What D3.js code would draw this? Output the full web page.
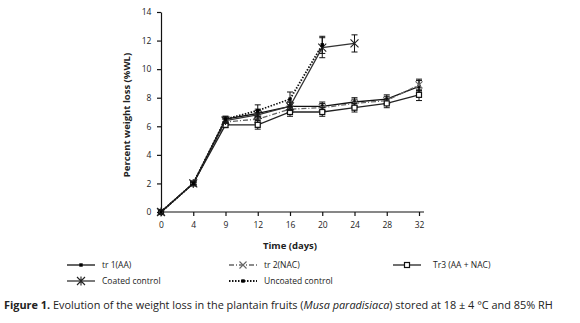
<!DOCTYPE html>
<html>
<head>
<meta charset="utf-8">
<script src="https://cdn.jsdelivr.net/npm/d3@7"></script>
<style>
  body { margin: 0; background: #fff; }
  svg text { font-family: "Open Sans", "Noto Sans", sans-serif; fill: #222; }
</style>
</head>
<body>
<div id="chart"></div>
<script>
// data
const days = [0, 4, 9, 12, 16, 20, 24, 28, 32];
const tr1 = [0, 2, 6.5, 6.9, 7.4, 7.4, 7.7, 7.9, 8.8];
const tr2 = [0, 2, 6.3, 6.5, 7.2, 7.3, 7.6, 7.8, 8.9];
const tr3 = [0, 2, 6.1, 6.1, 7.0, 7.0, 7.3, 7.6, 8.2];
const coated = [0, 2, 6.4, 6.8, 7.4, 11.5, 11.8];
const uncoated = [0, 2, 6.5, 7.1, 7.9, 11.7];
const errTr = [0, 0.1, 0.2, 0.3, 0.3, 0.3, 0.3, 0.3, 0.4];
const errCoated = [0, 0.1, 0.2, 0.3, 0.3, 0.7, 0.6];
const errUncoated = [0, 0.1, 0.2, 0.4, 0.5, 0.6];
const yTicks = [0, 2, 4, 6, 8, 10, 12, 14];

const width = 580, height = 323;
const svg = d3.select("#chart").append("svg")
  .attr("width", width).attr("height", height);

// scales
const x = d3.scalePoint().domain(days).range([161, 419]);
const y = d3.scaleLinear().domain([0, 14]).range([212, 12]);

// axes
const xAxis = svg.append("g")
  .attr("transform", "translate(0,212)")
  .call(d3.axisBottom(x).tickSize(4).tickSizeOuter(0));
xAxis.select(".domain").attr("d", "M161,0H424");
const yAxis = svg.append("g")
  .attr("transform", "translate(161,0)")
  .call(d3.axisLeft(y).tickValues(yTicks).tickSize(4).tickSizeOuter(0));
[xAxis, yAxis].forEach(a => {
  a.selectAll("path, line").attr("stroke", "#111").attr("stroke-width", 1.2);
  a.selectAll("text").style("font-size", "8.5px").attr("fill", "#222");
});
xAxis.selectAll("text").attr("dy", "1.1em");
yAxis.selectAll("text").attr("dx", "-0.3em");

svg.append("text")
  .attr("x", 290).attr("y", 249)
  .attr("text-anchor", "middle")
  .style("font-size", "9.5px").style("font-weight", "bold")
  .text("Time (days)");
svg.append("text")
  .attr("transform", "translate(130,115) rotate(-90)")
  .attr("text-anchor", "middle")
  .style("font-size", "9.5px").style("font-weight", "bold")
  .text("Percent weight loss (%WL)");

// series definitions
const series = [
  {name: "tr 1(AA)", vals: tr1, err: errTr, color: "#111", dash: null, marker: "dot"},
  {name: "tr 2(NAC)", vals: tr2, err: errTr, color: "#666", dash: "5,2,1,2", marker: "x"},
  {name: "Tr3 (AA + NAC)", vals: tr3, err: errTr, color: "#222", dash: null, marker: "square"},
  {name: "Coated control", vals: coated, err: errCoated, color: "#333", dash: null, marker: "star"},
  {name: "Uncoated control", vals: uncoated, err: errUncoated, color: "#111", dash: "1.5,1.5", marker: "dot"}
];

const line = d3.line().x(d => x(d.day)).y(d => y(d.v));

function drawMarker(g, type, cx, cy, color) {
  if (type === "dot") {
    g.append("rect").attr("x", cx - 1.7).attr("y", cy - 1.7).attr("width", 3.4).attr("height", 3.4)
      .attr("fill", "#000");
  } else if (type === "square") {
    g.append("rect").attr("x", cx - 2.5).attr("y", cy - 2.5).attr("width", 5).attr("height", 5)
      .attr("fill", "#fff").attr("stroke", "#111").attr("stroke-width", 1.2);
  } else if (type === "x") {
    g.append("path").attr("d", `M${cx-3.5},${cy-3.5}L${cx+3.5},${cy+3.5}M${cx-3.5},${cy+3.5}L${cx+3.5},${cy-3.5}`)
      .attr("stroke", color).attr("stroke-width", 1.1);
  } else if (type === "star") {
    g.append("path").attr("d", `M${cx-4},${cy-4}L${cx+4},${cy+4}M${cx-4},${cy+4}L${cx+4},${cy-4}M${cx},${cy-4.5}V${cy+4.5}`)
      .attr("stroke", "#222").attr("stroke-width", 1.1);
  }
}

series.forEach(s => {
  const pts = s.vals.map((v, i) => ({day: days[i], v: v, e: s.err[i]}));
  const g = svg.append("g");
  g.append("path").datum(pts)
    .attr("d", line)
    .attr("fill", "none")
    .attr("stroke", s.color)
    .attr("stroke-width", s.dash === "1.5,1.5" ? 1.8 : 1.3)
    .attr("stroke-dasharray", s.dash);
  // error bars
  g.selectAll(".err").data(pts.filter(p => p.e > 0)).join("path")
    .attr("d", p => {
      const cx = x(p.day), t = y(p.v + p.e), b = y(p.v - p.e);
      return `M${cx},${t}V${b}M${cx-3},${t}H${cx+3}M${cx-3},${b}H${cx+3}`;
    })
    .attr("stroke", "#111").attr("stroke-width", 1).attr("fill", "none");
  pts.forEach(p => drawMarker(g, s.marker, x(p.day), y(p.v), s.color));
});

// legend
const legendPos = [[67, 265], [229, 265], [393, 265], [67, 281], [229, 281]];
const legendText = [102, 264, 433, 102, 264];
series.forEach((s, i) => {
  const [lx, ly] = legendPos[i];
  const g = svg.append("g");
  g.append("line").attr("x1", lx).attr("x2", lx + 28).attr("y1", ly).attr("y2", ly)
    .attr("stroke", s.color).attr("stroke-width", s.dash === "1.5,1.5" ? 1.8 : 1.3)
    .attr("stroke-dasharray", s.dash);
  drawMarker(g, s.marker, lx + 14, ly, s.color);
  g.append("text").attr("x", legendText[i]).attr("y", ly + 3)
    .style("font-size", "8.5px").text(s.name);
});

// caption
const cap = svg.append("text").attr("x", 4).attr("y", 309).style("font-size", "10.9px");
cap.append("tspan").style("font-weight", "bold").text("Figure 1.");
cap.append("tspan").text(" Evolution of the weight loss in the plantain fruits (");
cap.append("tspan").style("font-style", "italic").text("Musa paradisiaca");
cap.append("tspan").text(") stored at 18 ± 4 °C and 85% RH");
</script>
</body>
</html>
